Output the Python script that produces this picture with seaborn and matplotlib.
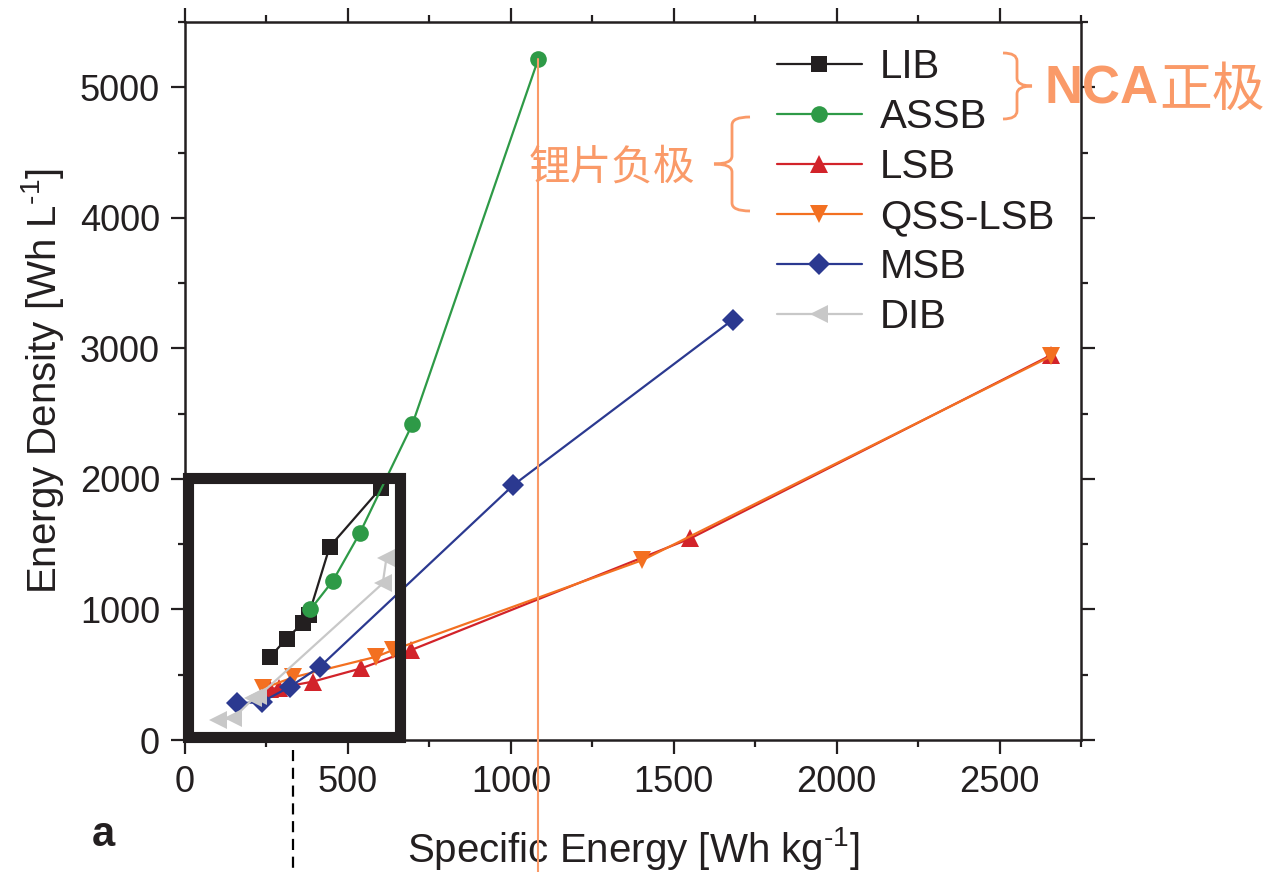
import numpy as np
import pandas as pd
import matplotlib
matplotlib.use("Agg")
import matplotlib.pyplot as plt
import seaborn as sns
from matplotlib.patches import Rectangle, PathPatch
from matplotlib.path import Path
from matplotlib.ticker import MultipleLocator

# ---------------- data ----------------
lib_x = [261, 312, 363, 380, 444, 601]
lib_y = [636, 777, 900, 960, 1480, 1930]

assb_x = [385, 454, 536, 698, 1084]
assb_y = [1000, 1220, 1582, 2420, 5214]

lsb_x = [262, 290, 392, 541, 694, 1551, 2658]
lsb_y = [390, 400, 447, 549, 689, 1544, 2948]

qss_x = [240, 332, 587, 638, 1404, 2658]
qss_y = [396, 480, 638, 689, 1378, 2940]

msb_x = [160, 235, 322, 414, 1008, 1682]
msb_y = [281, 290, 408, 561, 1953, 3221]

dib_x = [102, 148, 210, 225, 607, 618]
dib_y = [153, 166, 319, 335, 1200, 1391]

series_names = ["LIB", "ASSB", "LSB", "QSS-LSB", "MSB", "DIB"]
series_x = [lib_x, assb_x, lsb_x, qss_x, msb_x, dib_x]
series_y = [lib_y, assb_y, lsb_y, qss_y, msb_y, dib_y]
colors = ["#231F20", "#2E9A47", "#D2232A", "#F37021", "#2B3990", "#C8C8C8"]
markers = ["s", "o", "^", "v", "D", "<"]
msizes = [11, 12, 13, 13, 11, 13]

nca_cut_x = 1084     # vertical reference line (NCA)
li_cut_x = 331       # dashed reference line
ORANGE = "#FA9A68"

sns.set_theme(style="ticks")
plt.rcParams["font.family"] = ["Liberation Sans", "Noto Sans CJK SC", "DejaVu Sans"]
plt.rcParams["mathtext.fontset"] = "custom"
plt.rcParams["mathtext.rm"] = "Liberation Sans"
plt.rcParams["mathtext.it"] = "Liberation Sans:italic"
plt.rcParams["mathtext.bf"] = "Liberation Sans:bold"

W, H = 1269, 872
fig = plt.figure(figsize=(W / 100, H / 100), dpi=100)
ax = fig.add_axes([185 / W, 1 - 740 / H, (1081 - 185) / W, (740 - 22) / H])

for name, xs, ys, c, m, ms in zip(series_names, series_x, series_y, colors, markers, msizes):
    df = pd.DataFrame({"x": xs, "y": ys})
    sns.lineplot(data=df, x="x", y="y", ax=ax, sort=False, estimator=None,
                 color=c, marker=m, markersize=ms, markeredgewidth=0,
                 linewidth=1.6, label=name)

ax.set_xlim(0, 2750)
ax.set_ylim(0, 5500)

# black highlight box
ax.add_patch(Rectangle((10, 25), 650, 1980, fill=False, edgecolor="#231F20",
                       linewidth=8, zorder=5, clip_on=False))

# vertical reference lines extending below the axes
ax.plot([nca_cut_x, nca_cut_x], [assb_y[-1], -1011], color=ORANGE,
        linewidth=1.5, clip_on=False, zorder=6)
ax.plot([li_cut_x, li_cut_x], [-80, -1011], color="black", linewidth=1.6,
        linestyle=(0, (5, 3)), clip_on=False, zorder=6)

# axes styling
for s in ax.spines.values():
    s.set_linewidth(1.8)
    s.set_color("#231F20")
ax.xaxis.set_major_locator(MultipleLocator(500))
ax.xaxis.set_minor_locator(MultipleLocator(250))
ax.yaxis.set_major_locator(MultipleLocator(1000))
ax.yaxis.set_minor_locator(MultipleLocator(500))
ax.tick_params(which="both", direction="out", top=True, right=True,
               width=1.6, color="#231F20")
ax.tick_params(which="major", length=10, labelsize=26, pad=8, labelcolor="#231F20")
ax.tick_params(which="minor", length=5)

ax.set_xlabel(r"Specific Energy [Wh kg$^{\text{-}1}$]", fontsize=29,
              color="#231F20", labelpad=18)
ax.set_ylabel(r"Energy Density [Wh L$^{\text{-}1}$]", fontsize=29,
              color="#231F20", labelpad=10)

leg = ax.legend(loc="upper left", bbox_to_anchor=(777 / W, 1 - 48 / H),
                bbox_transform=fig.transFigure, frameon=False, fontsize=29,
                handlelength=2.1, handletextpad=0.45, labelspacing=0.3,
                borderpad=0, borderaxespad=0)
for t in leg.get_texts():
    t.set_color("#231F20")

# panel letter
fig.text(103 / W, 1 - 835 / H, "a", fontsize=30, fontweight="bold",
         color="#231F20", ha="center", va="center")

# annotations
fig.text(1045 / W, 1 - 90 / H, "NCA", fontsize=38, fontweight="bold",
         color=ORANGE, ha="left", va="center")
fig.text(1265 / W, 1 - 90 / H, "正极", fontsize=38, color=ORANGE,
         ha="right", va="center", family=["Noto Sans CJK SC", "DejaVu Sans"])
fig.text(612 / W, 1 - 168 / H, "锂片负极", fontsize=30, color=ORANGE,
         ha="center", va="center", family=["Noto Sans CJK SC", "DejaVu Sans"])


def brace(x_out, x_mid, x_tip, y_top, y_bot):
    """Curly brace path in pixel coordinates (y down)."""
    yc = (y_top + y_bot) / 2
    r = 8
    verts = [
        (x_out, y_top), (x_mid, y_top), (x_mid, y_top + r),
        (x_mid, yc - r),
        (x_mid, yc), (x_tip, yc),
        (x_mid, yc), (x_mid, yc + r),
        (x_mid, y_bot - r),
        (x_mid, y_bot), (x_out, y_bot),
    ]
    codes = [Path.MOVETO, Path.CURVE3, Path.CURVE3, Path.LINETO,
             Path.CURVE3, Path.CURVE3, Path.CURVE3, Path.CURVE3,
             Path.LINETO, Path.CURVE3, Path.CURVE3]
    verts = [(x / W, 1 - y / H) for x, y in verts]
    return PathPatch(Path(verts, codes), transform=fig.transFigure, fill=False,
                     edgecolor=ORANGE, linewidth=2)

fig.patches.append(brace(1003, 1017, 1032, 53, 119))
fig.patches.append(brace(750, 732, 714, 117, 211))

fig.savefig("out.png", dpi=100)
